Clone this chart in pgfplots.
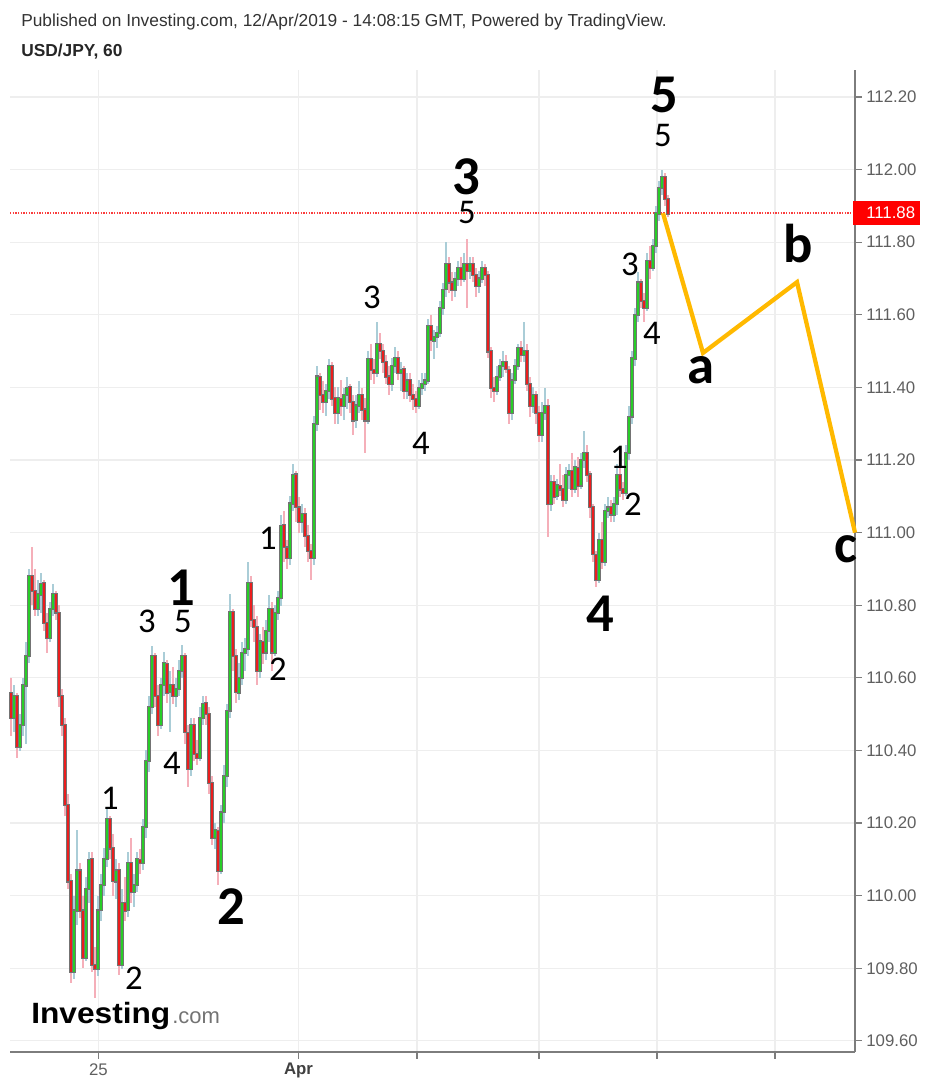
\documentclass[border=0pt]{standalone}
\usepackage{fontspec}
\setmainfont{Liberation Sans}
\newfontfamily\calib{Carlito}
\usepackage{graphicx}
\usepackage{pgfplots}
\usepackage{pgfplotstable}
\pgfplotsset{compat=1.18}
\definecolor{cgreen}{RGB}{40,205,40}
\definecolor{cred}{RGB}{235,30,30}
\definecolor{wgreen}{RGB}{170,205,215}
\definecolor{wred}{RGB}{245,175,185}
\definecolor{ylw}{RGB}{255,185,0}
\definecolor{axgray}{RGB}{125,125,125}
\definecolor{txtgray}{RGB}{95,95,95}
\definecolor{gridc}{RGB}{238,238,238}
\definecolor{dotred}{RGB}{250,60,60}
\newcommand\sm[3]{\node[font=\calib\fontsize{26}{28}\selectfont, inner sep=0] at (#1,#2) {#3};}
\newcommand\bg[3]{\node[font=\calib\bfseries\fontsize{41}{44}\selectfont, inner sep=0] at (#1,#2) {#3};}
\pgfplotsset{candle/.style={draw=none, no markers, forget plot,
  error bars/y dir=both, error bars/y explicit, error bars/error mark=none,
  error bars/error bar style={draw=#1}}}

\pgfplotstableread{
x o h l c
11 110.56 110.60 110.44 110.49
14 110.49 110.58 110.45 110.55
17 110.55 110.56 110.38 110.41
20 110.41 110.50 110.40 110.47
23 110.47 110.60 110.44 110.58
26 110.58 110.70 110.42 110.66
29 110.66 110.90 110.64 110.88
32 110.88 110.96 110.80 110.84
35 110.84 110.90 110.77 110.79
38 110.79 110.87 110.77 110.83
41 110.83 110.89 110.78 110.86
44 110.86 110.87 110.73 110.75
47 110.75 110.78 110.67 110.71
50 110.71 110.81 110.70 110.79
53 110.79 110.86 110.77 110.83
56 110.83 110.84 110.76 110.78
59 110.78 110.80 110.52 110.55
62 110.55 110.57 110.44 110.47
65 110.47 110.49 110.22 110.25
68 110.25 110.28 110.02 110.04
71 110.04 110.06 109.76 109.79
74 109.79 110.00 109.77 109.96
77 109.96 110.18 109.92 110.07
80 110.07 110.09 109.94 109.96
83 109.96 110.00 109.80 109.83
86 109.83 110.05 109.82 110.02
89 110.02 110.12 109.98 110.10
92 110.10 110.12 109.79 109.81
95 109.81 109.86 109.72 109.80
98 109.80 110.00 109.78 109.96
101 109.96 110.06 109.93 110.03
104 110.03 110.13 110.00 110.10
107 110.10 110.24 110.08 110.21
110 110.21 110.22 110.10 110.13
113 110.13 110.17 110.00 110.04
116 110.04 110.10 109.99 110.07
119 110.07 110.09 109.78 109.81
122 109.81 110.02 109.80 109.98
125 109.98 110.05 109.93 109.96
128 109.96 110.12 109.94 110.09
131 110.09 110.16 109.98 110.01
134 110.01 110.06 109.97 110.03
137 110.03 110.12 110.01 110.10
140 110.10 110.13 110.06 110.09
143 110.09 110.21 110.07 110.19
146 110.19 110.40 110.16 110.37
149 110.37 110.55 110.34 110.52
152 110.52 110.69 110.50 110.66
155 110.66 110.67 110.52 110.55
158 110.55 110.58 110.44 110.47
161 110.47 110.60 110.46 110.58
164 110.58 110.67 110.55 110.64
167 110.64 110.65 110.53 110.56
170 110.56 110.62 110.45 110.58
173 110.58 110.63 110.53 110.55
176 110.55 110.60 110.52 110.57
179 110.57 110.65 110.55 110.62
182 110.62 110.69 110.60 110.66
185 110.66 110.67 110.42 110.45
188 110.45 110.47 110.30 110.35
191 110.35 110.49 110.33 110.47
194 110.47 110.49 110.37 110.39
197 110.39 110.43 110.36 110.38
200 110.38 110.52 110.37 110.49
203 110.49 110.55 110.47 110.53
206 110.53 110.55 110.47 110.50
209 110.50 110.52 110.28 110.31
212 110.31 110.33 110.14 110.16
215 110.16 110.20 110.13 110.18
218 110.18 110.19 110.03 110.07
221 110.07 110.25 110.06 110.23
224 110.23 110.36 110.20 110.33
227 110.33 110.53 110.30 110.51
230 110.51 110.83 110.49 110.78
233 110.78 110.79 110.62 110.66
236 110.66 110.68 110.53 110.56
239 110.56 110.64 110.54 110.60
242 110.60 110.70 110.58 110.67
245 110.67 110.71 110.62 110.68
248 110.68 110.92 110.66 110.86
251 110.86 110.88 110.74 110.76
254 110.76 110.80 110.70 110.74
257 110.74 110.77 110.58 110.62
260 110.62 110.72 110.60 110.70
263 110.70 110.74 110.64 110.67
266 110.67 110.76 110.65 110.73
269 110.73 110.83 110.70 110.79
272 110.79 110.81 110.62 110.67
275 110.67 110.80 110.66 110.78
278 110.78 110.84 110.76 110.82
281 110.82 111.05 110.80 111.02
284 111.02 111.06 110.92 110.96
287 110.96 110.98 110.90 110.93
290 110.93 111.10 110.91 111.08
293 111.08 111.19 111.06 111.16
296 111.16 111.17 111.03 111.07
299 111.07 111.10 111.00 111.03
302 111.03 111.08 111.00 111.05
305 111.05 111.07 110.96 110.99
308 110.99 111.02 110.92 110.95
311 110.95 110.97 110.87 110.93
314 110.93 111.32 110.91 111.30
317 111.30 111.46 111.28 111.43
320 111.43 111.44 111.34 111.38
323 111.38 111.42 111.33 111.36
326 111.36 111.41 111.32 111.39
329 111.39 111.48 111.37 111.46
332 111.46 111.47 111.35 111.37
335 111.37 111.40 111.30 111.33
338 111.33 111.40 111.30 111.37
341 111.37 111.42 111.32 111.35
344 111.35 111.40 111.31 111.38
347 111.38 111.43 111.34 111.40
350 111.40 111.41 111.33 111.36
353 111.36 111.38 111.27 111.31
356 111.31 111.38 111.29 111.35
359 111.35 111.42 111.33 111.38
362 111.38 111.40 111.31 111.34
365 111.34 111.37 111.22 111.31
368 111.31 111.50 111.30 111.48
371 111.48 111.52 111.42 111.45
374 111.45 111.48 111.41 111.44
377 111.44 111.58 111.43 111.52
380 111.52 111.55 111.48 111.50
383 111.50 111.52 111.44 111.47
386 111.47 111.49 111.41 111.43
389 111.43 111.46 111.38 111.41
392 111.41 111.48 111.39 111.46
395 111.46 111.51 111.44 111.48
398 111.48 111.50 111.42 111.44
401 111.44 111.47 111.39 111.45
404 111.45 111.46 111.37 111.39
407 111.39 111.44 111.37 111.42
410 111.42 111.44 111.36 111.38
413 111.38 111.41 111.34 111.37
416 111.37 111.39 111.33 111.35
419 111.35 111.42 111.34 111.40
422 111.40 111.44 111.38 111.41
425 111.41 111.44 111.39 111.42
428 111.42 111.59 111.41 111.57
431 111.57 111.60 111.50 111.53
434 111.53 111.56 111.48 111.54
437 111.54 111.57 111.51 111.55
440 111.55 111.64 111.54 111.62
443 111.62 111.69 111.60 111.67
446 111.67 111.80 111.65 111.74
449 111.74 111.76 111.66 111.69
452 111.69 111.72 111.64 111.67
455 111.67 111.72 111.65 111.70
458 111.70 111.75 111.68 111.73
461 111.73 111.76 111.68 111.70
464 111.70 111.77 111.69 111.74
467 111.74 111.81 111.62 111.72
470 111.72 111.76 111.70 111.74
473 111.74 111.76 111.69 111.71
476 111.71 111.73 111.65 111.68
479 111.68 111.72 111.66 111.70
482 111.70 111.75 111.69 111.73
485 111.73 111.74 111.68 111.71
488 111.71 111.72 111.48 111.50
491 111.50 111.51 111.37 111.40
494 111.40 111.43 111.36 111.39
497 111.39 111.46 111.38 111.43
500 111.43 111.48 111.42 111.46
503 111.46 111.50 111.43 111.47
506 111.47 111.49 111.44 111.45
509 111.45 111.46 111.30 111.33
512 111.33 111.44 111.31 111.42
515 111.42 111.48 111.41 111.46
518 111.46 111.52 111.45 111.51
521 111.51 111.53 111.47 111.49
524 111.49 111.58 111.47 111.50
527 111.50 111.52 111.39 111.41
530 111.41 111.43 111.32 111.35
533 111.35 111.40 111.33 111.38
536 111.38 111.39 111.30 111.33
539 111.33 111.35 111.25 111.27
542 111.27 111.36 111.25 111.33
545 111.33 111.40 111.31 111.35
548 111.35 111.37 110.99 111.08
551 111.08 111.16 111.06 111.14
554 111.14 111.16 111.08 111.10
557 111.10 111.15 111.09 111.13
560 111.13 111.19 111.10 111.12
563 111.12 111.16 111.07 111.09
566 111.09 111.18 111.08 111.16
569 111.16 111.19 111.12 111.17
572 111.17 111.22 111.10 111.12
575 111.12 111.20 111.11 111.18
578 111.18 111.21 111.10 111.13
581 111.13 111.22 111.12 111.20
584 111.20 111.28 111.18 111.22
587 111.22 111.24 111.14 111.16
590 111.16 111.17 111.04 111.07
593 111.07 111.08 110.92 110.94
596 110.94 110.95 110.85 110.87
599 110.87 111.00 110.86 110.98
602 110.98 111.03 110.90 110.92
605 110.92 111.08 110.91 111.06
608 111.06 111.10 111.04 111.07
611 111.07 111.09 111.03 111.05
614 111.05 111.10 111.03 111.08
617 111.08 111.19 111.05 111.16
620 111.16 111.18 111.10 111.12
623 111.12 111.14 111.09 111.11
626 111.11 111.24 111.10 111.22
629 111.22 111.35 111.20 111.32
632 111.32 111.50 111.30 111.48
635 111.48 111.62 111.46 111.60
638 111.60 111.72 111.58 111.69
641 111.69 111.70 111.62 111.64
644 111.64 111.66 111.58 111.62
647 111.62 111.77 111.61 111.75
650 111.75 111.79 111.70 111.73
653 111.73 111.81 111.72 111.79
656 111.79 111.90 111.77 111.88
659 111.88 111.97 111.86 111.95
662 111.95 112.00 111.93 111.98
665 111.98 111.99 111.90 111.92
668 111.92 111.93 111.87 111.88
}\candles

\begin{document}
\begin{tikzpicture}
\useasboundingbox (0,0) rectangle (699pt,-815.25pt);
\begin{axis}[
  at={(7.5pt,-789pt)}, anchor=south west,
  width=633.75pt, height=736.5pt, scale only axis,
  xmin=10, xmax=855, ymin=109.5692, ymax=112.2744,
  clip=false,
  axis x line*=bottom, axis y line*=right,
  axis line style={axgray, line width=1.3pt},
  tick align=outside, major tick length=5pt,
  tick style={axgray, line width=0.8pt},
  grid=major, major grid style={gridc, line width=0.8pt},
  ytick={109.6,109.8,110.0,110.2,110.4,110.6,110.8,111.0,111.2,111.4,111.6,111.8,112.0,112.2},
  yticklabel style={font=\fontsize{12.6}{14}\selectfont, text=txtgray,
    /pgf/number format/.cd, fixed, fixed zerofill, precision=2, assume math mode=true},
  xtick={98.5,298.5,417,539,657,775},
  xticklabels={25,{\color{black!75}\bfseries Apr},,,,},
  xticklabel style={font=\fontsize{12.6}{14}\selectfont, text=txtgray},
]
% last price line
\addplot[color=dotred, no markers, line width=1.1pt, dash pattern=on 1pt off 1pt, forget plot] coordinates {(10,111.88) (855,111.88)};
% wicks
\addplot[candle=wgreen, x filter/.expression={\thisrow{c}>=\thisrow{o} ? x : nan},
  error bars/error bar style={line width=0.8pt}]
  table[x=x, y expr={(\thisrow{h}+\thisrow{l})/2}, y error expr={(\thisrow{h}-\thisrow{l})/2}] {\candles};
\addplot[candle=wred, x filter/.expression={\thisrow{c}<\thisrow{o} ? x : nan},
  error bars/error bar style={line width=0.8pt}]
  table[x=x, y expr={(\thisrow{h}+\thisrow{l})/2}, y error expr={(\thisrow{h}-\thisrow{l})/2}] {\candles};
% body outlines
\addplot[candle=black!55,
  error bars/error bar style={line width=2.3pt}]
  table[x=x, y expr={(\thisrow{o}+\thisrow{c})/2}, y error expr={abs(\thisrow{c}-\thisrow{o})/2+0.003}] {\candles};
% bodies
\addplot[candle=cgreen, x filter/.expression={\thisrow{c}>=\thisrow{o} ? x : nan},
  error bars/error bar style={line width=1.6pt}]
  table[x=x, y expr={(\thisrow{o}+\thisrow{c})/2}, y error expr={max(abs(\thisrow{c}-\thisrow{o})/2,0.002)}] {\candles};
\addplot[candle=cred, x filter/.expression={\thisrow{c}<\thisrow{o} ? x : nan},
  error bars/error bar style={line width=1.6pt}]
  table[x=x, y expr={(\thisrow{o}+\thisrow{c})/2}, y error expr={max(abs(\thisrow{c}-\thisrow{o})/2,0.002)}] {\candles};
% projection
\addplot[color=ylw, no markers, line width=3.2pt, line join=miter, forget plot] coordinates {(663,111.88) (703,111.495) (797,111.69) (855,111.00)};
\end{axis}
\begin{scope}[x=0.75pt, y=-0.75pt]
\node[anchor=base west, inner sep=0, text=black!80, font=\fontsize{13}{15}\selectfont] at (21,27) {Published on Investing.com, 12/Apr/2019 - 14:08:15 GMT, Powered by TradingView.};
\node[anchor=base west, inner sep=0, text=black!85, font=\bfseries\fontsize{13}{15}\selectfont] at (21,57) {USD/JPY, 60};
\fill[red] (853,201) rectangle (920,225);
\node[anchor=west, inner sep=0, text=white, font=\fontsize{12.6}{14}\selectfont] at (866,213) {111.88};
% wave labels
\bg{181}{588}{1}
\bg{231}{907}{2}
\bg{466}{177}{3}
\bg{600}{614}{4}
\bg{664}{95}{5}
\bg{701}{370}{a}
\bg{798}{244}{b}
\bg{846}{549}{c}
\sm{110}{798}{1}
\sm{134}{978}{2}
\sm{147}{621}{3}
\sm{183}{621}{5}
\sm{172}{763}{4}
\sm{268}{538}{1}
\sm{278}{669}{2}
\sm{372}{297}{3}
\sm{421}{443}{4}
\sm{467}{212}{5}
\sm{619}{457}{1}
\sm{633}{504}{2}
\sm{630}{264}{3}
\sm{652}{333}{4}
\sm{663}{136}{5}
% logo
\node[anchor=base west, inner sep=0, font=\bfseries\fontsize{22}{24}\selectfont] at (31,1023) {\scalebox{1.08}[1]{Investing}};
\node[anchor=base west, inner sep=0, text=black!55, font=\fontsize{16.5}{18}\selectfont] at (172,1023) {.com};
\end{scope}
\end{tikzpicture}
\end{document}
